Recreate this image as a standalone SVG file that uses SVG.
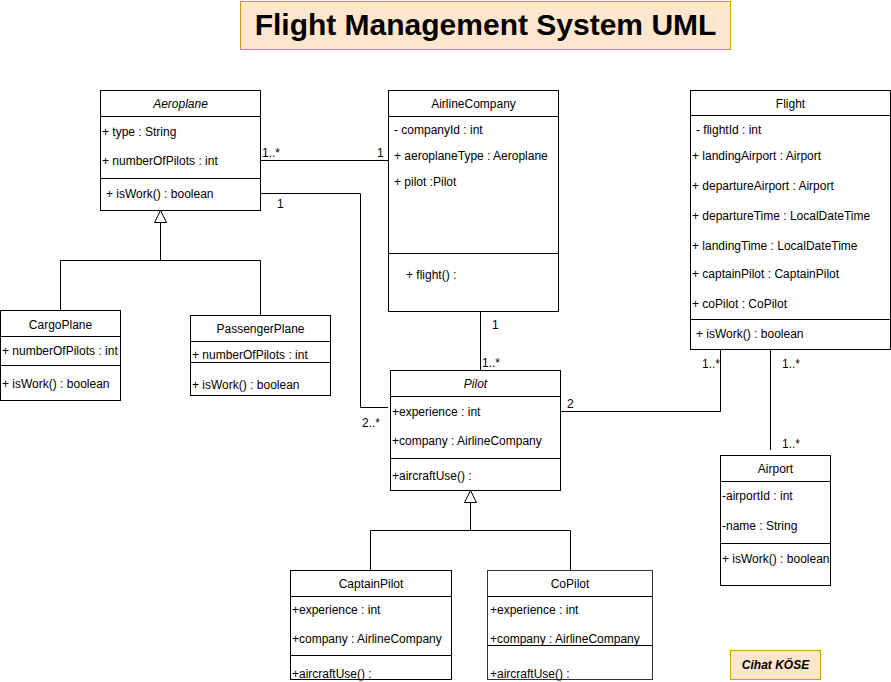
<svg xmlns="http://www.w3.org/2000/svg" width="891" height="682" viewBox="0 0 891 682">
<style>
.box{fill:#fff;stroke:#000;stroke-width:1}
.ln{fill:none;stroke:#000;stroke-width:1}
.t{font-family:"Liberation Sans",Arial,sans-serif;font-size:12px;fill:#000}
.c{text-anchor:middle}
.i{font-style:italic}
.note{fill:#ffe6cc;stroke:#d79b00;stroke-width:1}
</style>
<rect width="891" height="682" fill="#fff"/>
<g id="title">
<rect class="note" x="240.5" y="1.5" width="490" height="48"/>
<text x="485.5" y="35" text-anchor="middle" font-family="'Liberation Sans',Arial,sans-serif" font-size="30" font-weight="bold">Flight Management System UML</text>
</g>
<g id="connectors">
<path class="ln" d="M260,160.5 H388"/>
<path class="ln" d="M260,193.5 H360.5 V407.5 H388"/>
<path class="ln" d="M480.5,311 V370"/>
<path class="ln" d="M720.5,349 V411.5 H560"/>
<path class="ln" d="M770.5,349 V450"/>
<path class="ln" d="M160.5,222 V260.5 M60.5,310 V260.5 H260.5 V315"/>
<path class="box" d="M160.5,210.5 L154.5,222.5 L166.5,222.5 Z"/>
<path class="ln" d="M470.5,502 V530.5 M370.5,570 V530.5 H570.5 V570"/>
<path class="box" d="M470.5,490.5 L464.5,502.5 L476.5,502.5 Z"/>
<text class="t" x="262" y="157">1..*</text>
<text class="t" x="377" y="157">1</text>
<text class="t" x="277" y="208">1</text>
<text class="t" x="362" y="427">2..*</text>
<text class="t" x="492" y="329">1</text>
<text class="t" x="482" y="367">1..*</text>
<text class="t" x="567" y="408">2</text>
<text class="t" x="702" y="368">1..*</text>
<text class="t" x="782" y="368">1..*</text>
<text class="t" x="782" y="448">1..*</text>
</g>
<g id="Aeroplane">
<rect class="box" x="100.5" y="90.5" width="160" height="120"/>
<path class="ln" d="M100.5,116.5 H260.5 M100.5,178.5 H260.5"/>
<text class="t c i" x="180.5" y="108">Aeroplane</text>
<text class="t" x="102" y="136">+ type : String</text>
<text class="t" x="102" y="165">+ numberOfPilots : int</text>
<text class="t" x="106" y="198">+ isWork() : boolean</text>
</g>
<g id="AirlineCompany">
<rect class="box" x="388.5" y="90.5" width="170" height="221"/>
<path class="ln" d="M388.5,116.5 H558.5 M388.5,253.5 H558.5"/>
<text class="t c" x="473.5" y="108">AirlineCompany</text>
<text class="t" x="394" y="134">- companyId : int</text>
<text class="t" x="394" y="160">+ aeroplaneType : Aeroplane</text>
<text class="t" x="394" y="186">+ pilot :Pilot</text>
<text class="t" x="406" y="279">+ flight() :</text>
</g>
<g id="Flight">
<rect class="box" x="690.5" y="90.5" width="200" height="259"/>
<path class="ln" d="M690.5,115.5 H890.5 M690.5,319.5 H890.5"/>
<text class="t c" x="790.5" y="108">Flight</text>
<text class="t" x="696" y="134"> - flightId : int</text>
<text class="t" x="692" y="160">+ landingAirport : Airport</text>
<text class="t" x="692" y="190">+ departureAirport : Airport</text>
<text class="t" x="692" y="220">+ departureTime : LocalDateTime</text>
<text class="t" x="692" y="250">+ landingTime : LocalDateTime</text>
<text class="t" x="692" y="278">+ captainPilot : CaptainPilot</text>
<text class="t" x="692" y="308">+ coPilot : CoPilot</text>
<text class="t" x="696" y="338">+ isWork() : boolean</text>
</g>
<g id="CargoPlane">
<rect class="box" x="0.5" y="310.5" width="120" height="90"/>
<path class="ln" d="M0.5,336.5 H120.5 M0.5,365.5 H120.5"/>
<text class="t c" x="60.5" y="329">CargoPlane</text>
<text class="t" x="2" y="355">+ numberOfPilots : int</text>
<text class="t" x="2" y="388">+ isWork() : boolean</text>
</g>
<g id="PassengerPlane">
<rect class="box" x="190.5" y="315.5" width="140" height="80"/>
<path class="ln" d="M190.5,341.5 H330.5 M190.5,362.5 H330.5"/>
<text class="t c" x="260.5" y="333">PassengerPlane</text>
<text class="t" x="192" y="359">+ numberOfPilots : int</text>
<text class="t" x="192" y="389">+ isWork() : boolean</text>
</g>
<g id="Pilot">
<rect class="box" x="390.5" y="370.5" width="170" height="120"/>
<path class="ln" d="M390.5,396.5 H560.5 M390.5,458.5 H560.5"/>
<text class="t c i" x="475.5" y="388">Pilot</text>
<text class="t" x="392" y="416">+experience : int</text>
<text class="t" x="392" y="445">+company : AirlineCompany</text>
<text class="t" x="392" y="480">+aircraftUse() :</text>
</g>
<g id="CaptainPilot">
<rect class="box" x="290.5" y="570.5" width="161" height="109"/>
<path class="ln" d="M290.5,596.5 H451.5 M290.5,655.5 H451.5"/>
<text class="t c" x="371" y="588">CaptainPilot</text>
<text class="t" x="292" y="614">+experience : int</text>
<text class="t" x="292" y="643">+company : AirlineCompany</text>
<text class="t" x="292" y="678">+aircraftUse() :</text>
</g>
<g id="CoPilot">
<rect class="box" x="487.5" y="570.5" width="165" height="109" style="stroke:#333"/>
<path class="ln" d="M487.5,596.5 H652.5 M487.5,645.5 H652.5"/>
<text class="t c" x="570" y="588">CoPilot</text>
<text class="t" x="490" y="614">+experience : int</text>
<text class="t" x="490" y="643">+company : AirlineCompany</text>
<text class="t" x="490" y="678">+aircraftUse() :</text>
</g>
<g id="Airport">
<rect class="box" x="720.5" y="455.5" width="110" height="130"/>
<path class="ln" d="M720.5,481.5 H830.5 M720.5,543.5 H830.5"/>
<text class="t c" x="775.5" y="473">Airport</text>
<text class="t" x="722" y="500">-airportId : int</text>
<text class="t" x="722" y="530">-name : String</text>
<text class="t" x="722" y="563">+ isWork() : boolean</text>
</g>
<g id="author">
<rect class="note" x="730.5" y="650.5" width="90" height="29"/>
<text class="t c" x="775.5" y="669" font-style="italic" font-weight="bold">Cihat KÖSE</text>
</g>
</svg>
